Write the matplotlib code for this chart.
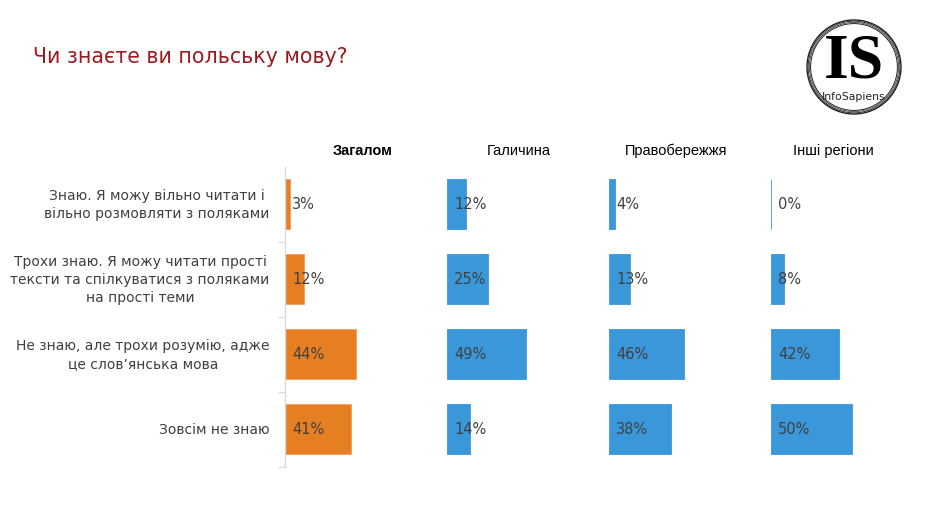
import matplotlib
matplotlib.use('Agg')
import matplotlib.pyplot as plt
from matplotlib.patches import Circle

# 데이터
categories = ['Знаю. Я можу вільно читати і\nвільно розмовляти з поляками',
              'Трохи знаю. Я можу читати прості\nтексти та спілкуватися з поляками\nна прості теми',
              'Не знаю, але трохи розумію, адже\nце слов’янська мова',
              'Зовсім не знаю']
groups = ['Загалом', 'Галичина', 'Правобережжя', 'Інші регіони']
total = [3, 12, 44, 41]
galychyna = [12, 25, 49, 14]
pravoberezhzhia = [4, 13, 46, 38]
inshi = [0, 8, 42, 50]
series = [total, galychyna, pravoberezhzhia, inshi]

W, H = 943, 510
fig = plt.figure(figsize=(W / 100, H / 100), dpi=100)
fig.patch.set_facecolor('white')

def fx(px):
    return px / W

def fy(py):
    return 1 - py / H

orange = '#E67E22'
blue = '#3A97DA'
txt = '#404040'

# 패널 위치 (픽셀)
lefts = [285, 447, 609, 771]
pw = 162
top, bottom = 167.5, 467.5
header_x = [363, 519, 676, 833]

for i, (vals, name) in enumerate(zip(series, groups)):
    ax = fig.add_axes([fx(lefts[i]), fy(bottom), fx(pw), (bottom - top) / H])
    ys = list(range(len(categories)))
    color = orange if i == 0 else blue
    ax.barh(ys, vals, height=0.667, color=color, edgecolor=color if i else '#F0A060',
            linewidth=0.6)
    for y, v in zip(ys, vals):
        ax.annotate(f'{v}%', (0, y), xytext=(5, 0), textcoords='offset points',
                    va='center', ha='left', fontsize=10.5, color=txt)
    ax.set_xlim(0, 100)
    ax.set_ylim(len(categories) - 0.5, -0.5)
    ax.set_xticks([])
    for s in ['top', 'right', 'bottom']:
        ax.spines[s].set_visible(False)
    if i == 0:
        ax.spines['left'].set_color('#D9D9D9')
        ax.spines['left'].set_linewidth(1)
        ax.set_yticks([k + 0.5 for k in range(len(categories))])
        ax.set_yticklabels([])
        ax.tick_params(axis='y', length=5, color='#D9D9D9')
        for y, c in zip(ys, categories):
            ax.annotate(c, (0, y), xytext=(-11, 0), textcoords='offset points',
                        ha='right', va='center', multialignment='center',
                        fontsize=10, color=txt, linespacing=1.38)
    else:
        ax.spines['left'].set_visible(False)
        ax.set_yticks([])
    ax.patch.set_alpha(0)
    fig.text(fx(header_x[i]), fy(151), name, ha='center', va='center',
             fontsize=10.5, color='black', family='Liberation Sans',
             fontweight='bold' if i == 0 else 'normal')

# 제목
fig.text(fx(33), fy(57), 'Чи знаєте ви польську мову?', ha='left', va='center',
         fontsize=14.8, color='#9B1B1E')

# 로고
lax = fig.add_axes([0, 0, 1, 1])
lax.set_xlim(0, W)
lax.set_ylim(H, 0)
lax.axis('off')
cx, cy = 854, 68
for r, lw in [(47, 1.0), (45.8, 0.6), (44.6, 0.5), (43.4, 0.7)]:
    lax.add_patch(Circle((cx, cy), r, fill=False, edgecolor='#222222', linewidth=lw))
lax.text(cx, cy - 5, 'IS', ha='center', va='center', fontsize=46,
         family='Liberation Serif', fontweight='bold', color='black')
lax.text(cx, cy + 29, 'InfoSapiens', ha='center', va='center', fontsize=7.8,
         color='#222222')

fig.savefig('out.png', dpi=100)
